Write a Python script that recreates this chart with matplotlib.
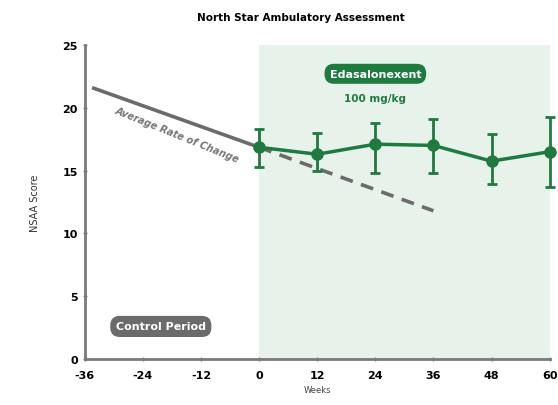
import numpy as np
import matplotlib
matplotlib.use("Agg")
import matplotlib.pyplot as plt

# data
weeks = [0, 12, 24, 36, 48, 60]
nsaa = [16.85, 16.3, 17.1, 17.0, 15.75, 16.5]
err_hi = [18.3, 18.0, 18.8, 19.1, 17.9, 19.3]
err_lo = [15.3, 15.0, 14.8, 14.8, 13.9, 13.7]

control_x = [-34.5, 0]
control_y = [21.6, 16.85]
proj_x = [0, 36]
proj_y = [16.85, 11.8]

xticks = [-36, -24, -12, 0, 12, 24, 36, 48, 60]
yticks = [0, 5, 10, 15, 20, 25]

green = "#1f7a3f"
gray = "#6b6b6b"
axis_gray = "#7a7a7a"

fig = plt.figure(figsize=(5.58, 4.06), dpi=100)
ax = fig.add_axes([0.152, 0.113, 0.833, 0.774])

ax.axvspan(0, 60, ymin=0, ymax=1, color="#e6f2ea", zorder=0, lw=0)

ax.plot(control_x, control_y, color=gray, lw=2.6, solid_capstyle="butt", zorder=2)
ax.plot(proj_x, proj_y, color=gray, lw=2.6, ls=(0, (3.6, 2.4)), zorder=2)

nsaa_arr = np.array(nsaa)
yerr = [nsaa_arr - np.array(err_lo), np.array(err_hi) - nsaa_arr]
ax.errorbar(weeks, nsaa, yerr=yerr, color=green, lw=2.5, marker="o", ms=8,
            elinewidth=2, capsize=3.5, capthick=2, zorder=3, clip_on=False)

ax.set_xlim(-36, 60)
ax.set_ylim(0, 25)
ax.set_xticks(xticks)
ax.set_yticks(yticks)
ax.set_xticklabels([str(t) for t in xticks], fontsize=8, fontweight="bold")
ax.set_yticklabels([str(t) for t in yticks], fontsize=8, fontweight="bold")
ax.tick_params(axis="both", color=axis_gray, length=3, width=1, direction="inout")
ax.tick_params(axis="x", pad=6)

for s in ["top", "right"]:
    ax.spines[s].set_visible(False)
for s in ["left", "bottom"]:
    ax.spines[s].set_color(axis_gray)
    ax.spines[s].set_linewidth(2)

ax.set_xlabel("Weeks", fontsize=6, color="#444444", labelpad=4)
ax.set_ylabel("NSAA Score", fontsize=7, color="#333333", labelpad=16)

fig.text(0.54, 0.955, "North Star Ambulatory Assessment", fontsize=7.5,
         fontweight="bold", ha="center", va="center")

ax.text(24, 22.7, "Edasalonexent", fontsize=8, fontweight="bold", color="white",
        ha="center", va="center",
        bbox=dict(boxstyle="round,pad=0.45,rounding_size=0.85", fc=green, ec="none"))
ax.text(24, 20.75, "100 mg/kg", fontsize=7.5, fontweight="bold", color=green,
        ha="center", va="center")

ax.text(-20.3, 2.6, "Control Period", fontsize=8, fontweight="bold", color="white",
        ha="center", va="center",
        bbox=dict(boxstyle="round,pad=0.5,rounding_size=0.85", fc=gray, ec="none"))

ax.text(-17.0, 17.9, "Average Rate of Change", fontsize=7, fontweight="bold",
        style="italic", color="#777777", rotation=-22, ha="center", va="center",
        rotation_mode="anchor")

fig.savefig("out.png", dpi=100)
